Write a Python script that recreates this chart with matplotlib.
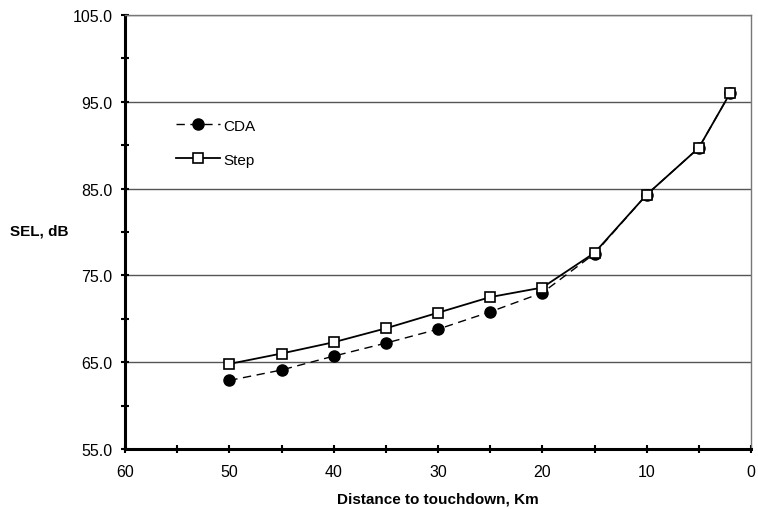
import matplotlib
matplotlib.use("Agg")
import matplotlib.pyplot as plt
from matplotlib.ticker import FixedLocator, MultipleLocator, FormatStrFormatter

plt.rcParams['font.family'] = ['Liberation Sans', 'DejaVu Sans']

distance = [50, 45, 40, 35, 30, 25, 20, 15, 10, 5, 2]
cda = [62.9, 64.1, 65.7, 67.2, 68.8, 70.8, 73.0, 77.5, 84.3, 89.7, 96.0]
step = [64.8, 66.0, 67.3, 68.9, 70.7, 72.5, 73.6, 77.6, 84.3, 89.7, 96.0]
y_major = [55, 65, 75, 85, 95, 105]
y_minor = [60, 70, 80, 90, 100]

fig = plt.figure(figsize=(7.58, 5.10), dpi=100)
ax = fig.add_axes([125/758, 1-450/510, (751-125)/758, (450-16)/510])

ax.set_xlim(60, 0)
ax.set_ylim(55, 105)

for yv in y_major[1:]:
    ax.axhline(yv, color='#555555', lw=1.0, zorder=1)

ax.plot(distance, cda, color='black', lw=1.0, ls=(0, (6, 4)), marker='o',
        markersize=8, markerfacecolor='black', markeredgecolor='black',
        label='CDA', zorder=3)
ax.plot(distance, step, color='black', lw=1.3, ls='-', marker='s',
        markersize=7, markerfacecolor='white', markeredgecolor='black',
        markeredgewidth=1.2, label='Step', zorder=4)

ax.xaxis.set_major_locator(MultipleLocator(10))
ax.xaxis.set_minor_locator(MultipleLocator(5))
ax.yaxis.set_major_locator(FixedLocator(y_major))
ax.yaxis.set_minor_locator(FixedLocator(y_minor))
ax.yaxis.set_major_formatter(FormatStrFormatter('%.1f'))
ax.xaxis.set_major_formatter(FormatStrFormatter('%d'))

ax.tick_params(axis='both', which='both', direction='inout', length=6, width=1.5,
               labelsize=11.5, colors='black')
ax.tick_params(axis='x', pad=8)
ax.tick_params(axis='y', pad=6)

for s in ['left', 'bottom']:
    ax.spines[s].set_linewidth(2.2)
    ax.spines[s].set_color('black')
for s in ['top', 'right']:
    ax.spines[s].set_linewidth(1.0)
    ax.spines[s].set_color('#777777')

ax.set_xlabel('Distance to touchdown, Km', fontsize=11, fontweight='bold', labelpad=9)
fig.text(10/758, 1-232/510, 'SEL, dB', fontsize=11, fontweight='bold',
         ha='left', va='center')

leg = ax.legend(loc='upper left', bbox_to_anchor=(37/626, 1-90/434), frameon=False,
                fontsize=11, handlelength=2.9, labelspacing=1.3, handletextpad=0.2)

fig.savefig('out.png', dpi=100, facecolor='white')
